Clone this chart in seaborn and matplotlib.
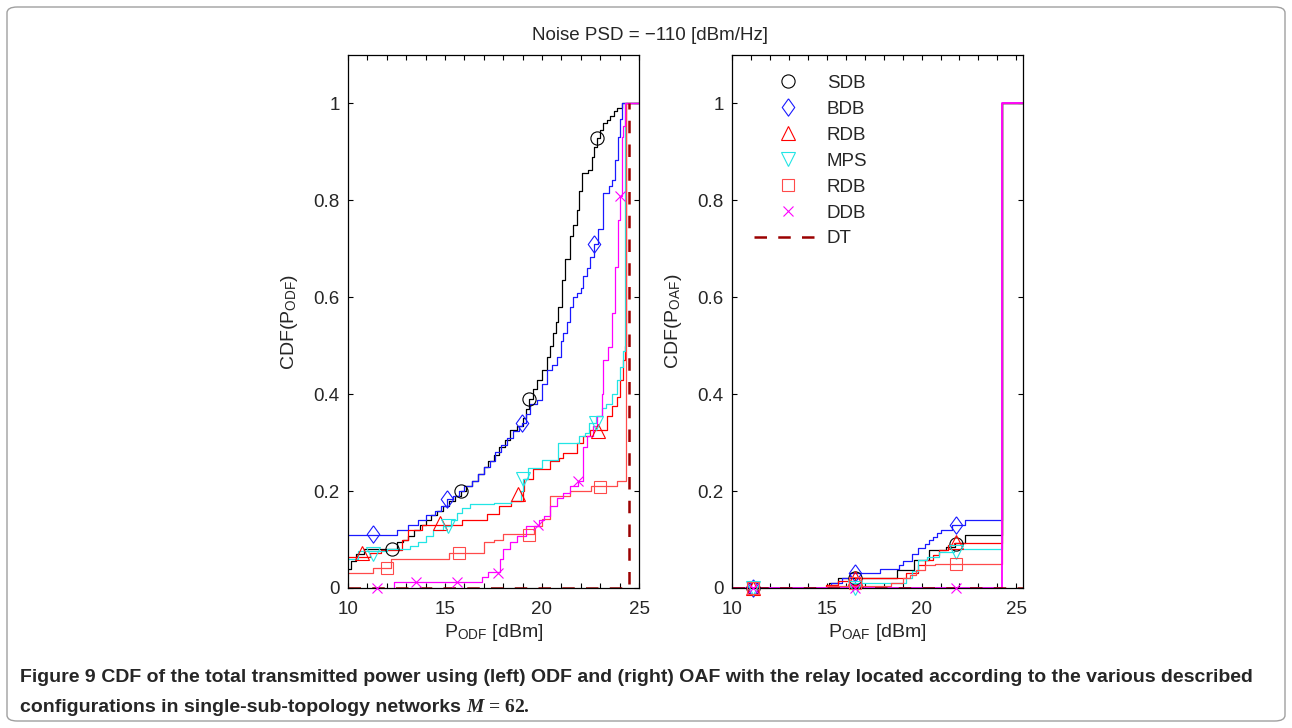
import matplotlib
matplotlib.use('Agg')
import matplotlib.pyplot as plt
import seaborn as sns
from matplotlib.lines import Line2D
from matplotlib.patches import FancyBboxPatch
from matplotlib.ticker import FixedLocator

sns.set_style('ticks')
plt.rcParams['font.family'] = ['Liberation Sans', 'DejaVu Sans']
plt.rcParams['mathtext.fontset'] = 'custom'
plt.rcParams['mathtext.rm'] = 'Liberation Sans'
plt.rcParams['mathtext.it'] = 'Liberation Serif:italic:bold'
plt.rcParams['mathtext.bf'] = 'Liberation Serif:bold'

# ---------------- data ----------------
series_names = ['SDB', 'BDB', 'RDB', 'MPS', 'RDB', 'DDB']
series_colors = ['#000000', '#1a1aff', '#ff0000', '#22e5e5', '#ff4a4a', '#ff00ff']
series_markers = ['o', 'diamond', '^', 'v', 's', 'x']
dt_color = '#9b0000'

# left panel (ODF): step CDF breakpoints (x [dBm], CDF)
sdb_odf = [(10.0, 0.04), (10.15, 0.055), (10.4, 0.07), (10.8, 0.08), (12.5, 0.094), (12.85, 0.1),
           (13.1, 0.107), (13.4, 0.12), (13.7, 0.13), (14.0, 0.14), (14.3, 0.15), (14.6, 0.158),
           (14.9, 0.17), (15.2, 0.18), (15.5, 0.19), (15.8, 0.2), (16.1, 0.21), (16.4, 0.22),
           (16.7, 0.235), (17.0, 0.25), (17.2, 0.262), (17.5, 0.275), (17.8, 0.292), (18.1, 0.305),
           (18.35, 0.327), (18.7, 0.335), (19.0, 0.35), (19.2, 0.37), (19.35, 0.39), (19.55, 0.41),
           (19.73, 0.43), (20.0, 0.45), (20.24, 0.477), (20.4, 0.5), (20.58, 0.526), (20.72, 0.55),
           (20.84, 0.58), (21.01, 0.636), (21.2, 0.68), (21.44, 0.726), (21.6, 0.75), (21.79, 0.78),
           (21.9, 0.82), (22.04, 0.857), (22.39, 0.863), (22.56, 0.89), (22.7, 0.91), (22.82, 0.929),
           (23.0, 0.945), (23.16, 0.96), (23.35, 0.965), (23.5, 0.974), (23.7, 0.985), (23.85, 0.991),
           (24.1, 1.0), (25.0, 1.0)]
bdb_odf = [(10.0, 0.11), (12.5, 0.12), (13.1, 0.13), (13.6, 0.14), (14.0, 0.15), (14.5, 0.158),
           (14.8, 0.17), (15.1, 0.183), (15.4, 0.19), (15.7, 0.2), (16.0, 0.21), (16.4, 0.22),
           (16.7, 0.235), (17.0, 0.25), (17.3, 0.262), (17.6, 0.28), (17.9, 0.295), (18.2, 0.31),
           (18.5, 0.325), (18.8, 0.335), (18.95, 0.34), (19.2, 0.36), (19.4, 0.38), (19.73, 0.388),
           (20.0, 0.42), (20.24, 0.45), (20.5, 0.46), (20.75, 0.477), (21.0, 0.51), (21.1, 0.526),
           (21.3, 0.55), (21.44, 0.58), (21.6, 0.6), (21.79, 0.608), (22.0, 0.62), (22.13, 0.643),
           (22.3, 0.66), (22.48, 0.684), (22.7, 0.71), (22.9, 0.74), (23.16, 0.815), (23.45, 0.829),
           (23.6, 0.843), (23.78, 0.884), (23.9, 0.93), (24.0, 0.967), (24.1, 1.0), (25.0, 1.0)]
rdb_odf = [(10.0, 0.065), (11.15, 0.073), (11.7, 0.078), (12.8, 0.1), (13.1, 0.12), (13.8, 0.131),
           (15.9, 0.14), (17.15, 0.152), (17.8, 0.17), (18.4, 0.18), (19.0, 0.2), (19.05, 0.224),
           (19.55, 0.245), (20.4, 0.262), (20.9, 0.268), (21.1, 0.279), (21.8, 0.3), (22.13, 0.313),
           (22.48, 0.327), (23.33, 0.354), (23.6, 0.375), (23.85, 0.395), (24.0, 0.43), (24.2, 0.47),
           (24.3, 0.5), (24.34, 1.0), (25.0, 1.0)]
mps_odf = [(10.0, 0.06), (10.5, 0.077), (12.0, 0.08), (13.2, 0.087), (13.6, 0.094), (14.0, 0.107),
           (14.4, 0.12), (14.9, 0.128), (15.3, 0.14), (15.6, 0.155), (15.9, 0.166), (16.3, 0.173),
           (17.5, 0.176), (18.4, 0.18), (18.9, 0.2), (19.04, 0.224), (19.3, 0.248), (20.0, 0.265),
           (20.8, 0.3), (21.9, 0.313), (22.2, 0.32), (22.4, 0.34), (22.8, 0.354), (23.1, 0.371),
           (23.3, 0.38), (23.6, 0.4), (23.85, 0.43), (24.0, 0.457), (24.2, 0.49), (24.3, 1.0),
           (25.0, 1.0)]
rdb2_odf = [(10.0, 0.03), (11.3, 0.042), (12.2, 0.06), (15.2, 0.072), (17.0, 0.094), (17.5, 0.1),
            (18.0, 0.111), (19.6, 0.128), (20.0, 0.142), (20.4, 0.19), (21.45, 0.2), (22.5, 0.21),
            (23.85, 0.22), (24.32, 1.0), (25.0, 1.0)]
ddb_odf = [(12.35, 0.0), (12.35, 0.012), (16.9, 0.022), (17.2, 0.032), (17.85, 0.06), (18.0, 0.08),
           (18.35, 0.094), (18.7, 0.107), (19.2, 0.128), (19.85, 0.14), (20.1, 0.149), (20.4, 0.17),
           (20.75, 0.186), (21.1, 0.197), (21.45, 0.21), (21.87, 0.22), (22.13, 0.29), (22.3, 0.313),
           (22.65, 0.334), (22.82, 0.354), (23.07, 0.4), (23.16, 0.47), (23.4, 0.498), (23.6, 0.567),
           (23.75, 0.663), (23.9, 0.76), (24.0, 0.81), (24.1, 0.93), (24.2, 0.953), (24.28, 1.0),
           (25.0, 1.0)]
dt_odf = [(10.0, 0.0), (24.48, 1.0)]

# left panel markers
sdb_odf_mk = [(12.25, 0.08), (15.8, 0.2), (19.35, 0.39), (22.82, 0.929)]
bdb_odf_mk = [(11.3, 0.111), (15.1, 0.183), (18.95, 0.34), (22.7, 0.71)]
rdb_odf_mk = [(10.7, 0.073), (14.74, 0.135), (18.78, 0.193), (22.9, 0.323)]
mps_odf_mk = [(11.3, 0.07), (15.17, 0.128), (19.04, 0.224), (22.8, 0.34)]
rdb2_odf_mk = [(12.0, 0.042), (15.7, 0.072), (19.35, 0.11), (22.99, 0.209)]
ddb_odf_mk = [(11.48, 0.0), (13.5, 0.012), (15.6, 0.012), (17.75, 0.03), (19.8, 0.13),
              (21.87, 0.22), (24.02, 0.81)]

# right panel (OAF)
sdb_oaf = [(10.0, 0.0), (15.1, 0.01), (15.6, 0.02), (18.7, 0.037), (19.6, 0.058), (20.4, 0.078),
           (21.3, 0.085), (21.75, 0.092), (22.3, 0.11), (24.26, 1.0), (25.35, 1.0)]
bdb_oaf = [(10.0, 0.0), (15.2, 0.01), (15.8, 0.02), (16.2, 0.03), (17.8, 0.04), (18.8, 0.048),
           (19.0, 0.055), (19.5, 0.07), (19.8, 0.082), (20.2, 0.09), (20.4, 0.1), (20.6, 0.106),
           (20.8, 0.113), (21.0, 0.12), (21.6, 0.13), (22.3, 0.14), (24.26, 1.0), (25.35, 1.0)]
rdb_oaf = [(10.0, 0.0), (14.96, 0.007), (15.6, 0.015), (16.5, 0.02), (19.2, 0.03), (19.8, 0.048),
           (20.2, 0.058), (20.6, 0.068), (20.9, 0.078), (21.4, 0.089), (21.7, 0.092), (24.26, 1.0),
           (25.35, 1.0)]
mps_oaf = [(10.0, 0.0), (15.9, 0.005), (16.3, 0.01), (19.2, 0.02), (19.5, 0.035), (19.8, 0.058),
           (20.3, 0.065), (20.9, 0.075), (21.7, 0.08), (24.26, 1.0), (25.35, 1.0)]
rdb2_oaf = [(10.0, 0.0), (15.0, 0.005), (18.4, 0.01), (19.0, 0.02), (19.4, 0.027), (19.7, 0.037),
            (20.2, 0.048), (20.7, 0.05), (24.26, 1.0), (25.35, 1.0)]
ddb_oaf = [(10.0, 0.0), (24.26, 1.0), (25.35, 1.0)]
dt_oaf = [(10.0, 0.0), (25.35, 0.0)]

oaf_mk_x = [11.1, 16.5, 21.8]
sdb_oaf_mk = [0.0, 0.02, 0.09]
bdb_oaf_mk = [0.0, 0.03, 0.13]
rdb_oaf_mk = [0.0, 0.02, 0.095]
mps_oaf_mk = [0.0, 0.0, 0.075]
rdb2_oaf_mk = [0.0, 0.01, 0.05]
ddb_oaf_mk = [0.0, 0.0, 0.0]

y_ticks = [0, 0.2, 0.4, 0.6, 0.8, 1.0]
y_ticklabels = ['0', '0.2', '0.4', '0.6', '0.8', '1']
x_ticks = [10, 15, 20, 25]

# ---------------- figure ----------------
W, H = 1292, 728
fig = plt.figure(figsize=(W / 100, H / 100), dpi=100)
fig.patch.set_facecolor('white')

ax1 = fig.add_axes([348 / W, 1 - 588 / H, 291 / W, 533 / H])
ax2 = fig.add_axes([732 / W, 1 - 588 / H, 291 / W, 533 / H])

lw = 0.9
DIAMOND = [(0, 1), (0.72, 0), (0, -1), (-0.72, 0), (0, 1)]


def mk_style(marker):
    if marker == 'diamond':
        return DIAMOND, 12.5
    if marker == 'x':
        return 'x', 7
    if marker == 's':
        return 's', 8.5
    return marker, 9.5


def draw_steps(ax, pts, color, **kw):
    xs = [p[0] for p in pts]
    ys = [p[1] for p in pts]
    sns.lineplot(x=xs, y=ys, ax=ax, color=color, drawstyle='steps-post',
                 estimator=None, sort=False, legend=False, **kw)


def draw_marks(ax, xs, ys, color, marker):
    m, size = mk_style(marker)
    ax.plot(xs, ys, ls='none', marker=m, ms=size, mfc='none', mec=color, mew=0.8,
            clip_on=False, zorder=5)


left_lines = [sdb_odf, bdb_odf, rdb_odf, mps_odf, rdb2_odf, ddb_odf]
left_marks = [sdb_odf_mk, bdb_odf_mk, rdb_odf_mk, mps_odf_mk, rdb2_odf_mk, ddb_odf_mk]
for pts, mk, c, m in zip(left_lines, left_marks, series_colors, series_markers):
    draw_steps(ax1, pts, c, linewidth=lw)
    draw_marks(ax1, [p[0] for p in mk], [p[1] for p in mk], c, m)
draw_steps(ax1, dt_odf, dt_color, linewidth=1.8, linestyle=(0, (5, 4.5)))

right_lines = [sdb_oaf, bdb_oaf, rdb_oaf, mps_oaf, rdb2_oaf, ddb_oaf]
right_marks = [sdb_oaf_mk, bdb_oaf_mk, rdb_oaf_mk, mps_oaf_mk, rdb2_oaf_mk, ddb_oaf_mk]
for pts, mk, c, m in zip(right_lines, right_marks, series_colors, series_markers):
    draw_steps(ax2, pts, c, linewidth=lw if c != '#ff00ff' else 1.3)
    draw_marks(ax2, oaf_mk_x, mk, c, m)
draw_steps(ax2, dt_oaf, dt_color, linewidth=1.8, linestyle=(0, (5, 4.5)))

for ax, xmax, tag in [(ax1, 25.0, 'ODF'), (ax2, 25.35, 'OAF')]:
    ax.set_xlim(10, xmax)
    ax.set_ylim(0, 1.1)
    ax.set_xticks(x_ticks)
    ax.set_xticklabels([str(t) for t in x_ticks])
    ax.xaxis.set_minor_locator(FixedLocator([v for v in range(11, 26) if v % 5 != 0 and v <= xmax]))
    ax.set_yticks(y_ticks)
    ax.set_yticklabels(y_ticklabels)
    ax.tick_params(axis='both', which='both', direction='in', top=True, right=True,
                   labelsize=13.5, length=3.5, width=0.8, color='black')
    ax.tick_params(axis='x', which='both', pad=9)
    ax.tick_params(axis='y', which='both', pad=6)
    for s in ax.spines.values():
        s.set_visible(True)
        s.set_color('black')
        s.set_linewidth(0.9)
    ax.set_xlabel('P$_{\\rm ' + tag + '}$ [dBm]', fontsize=14, labelpad=3)
    ax.set_ylabel('CDF(P$_{\\rm ' + tag + '}$)', fontsize=14, labelpad=10)
    ax.grid(False)

# legend in right panel
handles = []
for c, m in zip(series_colors, series_markers):
    mm, size = mk_style(m)
    handles.append(Line2D([], [], ls='none', marker=mm, ms=size, mfc='none', mec=c, mew=0.8))
handles.append(Line2D([], [], color=dt_color, lw=1.8, linestyle=(0, (5, 4.5))))
labels = series_names + ['DT']
ax2.legend(handles, labels, loc='upper left', bbox_to_anchor=(0.075, 0.963), frameon=False,
           fontsize=13.5, handlelength=3.6, handletextpad=0.3, labelspacing=0.47,
           borderpad=0, borderaxespad=0)

fig.text(650 / W, 1 - 35 / H, 'Noise PSD = \u2212110 [dBm/Hz]', ha='center', va='center', fontsize=13.5)

# figure border
fig.patches.append(FancyBboxPatch((7 / W, 7 / H), 1 - 14 / W, 1 - 14 / H,
                                  boxstyle='round,pad=0,rounding_size=0.008',
                                  transform=fig.transFigure, fc='none', ec='#a0a0a0', lw=1.0))

# caption
cap_font = ['Liberation Sans Narrow', 'Liberation Sans', 'DejaVu Sans']
cap_size = 14.0
r = fig.canvas.get_renderer()
y1 = 1 - 678 / H
y2 = 1 - 707 / H
t1 = fig.text(20 / W, y1, 'Figure 9', fontsize=cap_size, weight='bold', va='center', family=cap_font)
bb = t1.get_window_extent(r)
fig.text(bb.x1 / W, y1,
         ' CDF of the total transmitted power using (left) ODF and (right) OAF with the relay '
         'located according to the various described',
         fontsize=cap_size, weight='bold', va='center', family=cap_font)
t3 = fig.text(20 / W, y2, 'configurations in single-sub-topology networks ', fontsize=cap_size,
              weight='bold', va='center', family=cap_font)
bb3 = t3.get_window_extent(r)
fig.text(bb3.x1 / W, y2, '$M$ = 62.', fontsize=cap_size, weight='bold', va='center',
         family=['Liberation Serif', 'DejaVu Serif'])

fig.savefig('out.png', dpi=100)
